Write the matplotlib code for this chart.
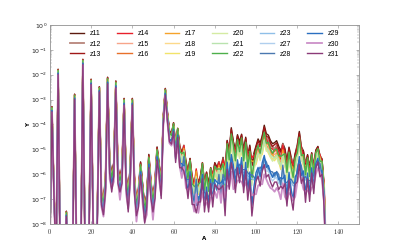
import matplotlib
matplotlib.use("Agg")
import matplotlib.pyplot as plt
import numpy as np
from matplotlib.ticker import LogLocator, FixedLocator, FuncFormatter, NullFormatter, LogFormatterMathtext

# ---- data (log10 of Y) ----
A = list(range(0, 135))

base_log = [
    -8.8, -3.4, -6.8, -9.5, -1.9, -9.5, -9.5, -9.5, -7.6, -9.5,   # 0-9
    -9.5, -9.5, -2.9, -9.5, -9.5, -9.5, -1.5, -8.6, -9.5, -8.3,   # 10-19
    -2.3, -8.0, -9.0, -7.8, -2.6, -7.0, -7.4, -6.4, -2.25, -5.8,  # 20-29
    -6.3, -5.9, -2.4, -6.0, -6.6, -6.0, -3.1, -6.4, -7.1, -6.0,   # 30-39
    -3.1, -6.4, -7.5, -6.9, -5.8, -6.8, -7.6, -7.2, -5.5, -6.6,   # 40-49
    -7.4, -6.6, -5.2, -5.9, -6.6, -3.9, -2.7, -3.7, -4.5, -4.6,   # 50-59
    -4.2, -5.1, -4.5, -5.3, -5.6, -5.3, -6.0, -6.3, -5.9, -6.6,   # 60-69
    -6.9, -6.5, -6.9, -6.6, -6.1, -6.8, -6.5, -6.9, -6.3, -6.5,   # 70-79
    -6.1, -6.3, -6.0, -6.4, -5.9, -6.5, -5.5, -5.8, -5.0, -5.6,   # 80-89
    -5.8, -5.3, -5.5, -5.3, -5.8, -5.4, -6.0, -5.7, -6.3, -6.0,   # 90-99
    -5.8, -5.5, -5.6, -5.4, -5.0, -5.3, -5.4, -5.6, -5.7, -5.7,   # 100-109
    -5.6, -5.8, -6.0, -5.6, -5.9, -6.3, -5.8, -6.1, -6.4, -6.0,   # 110-119
    -5.6, -5.1, -5.6, -5.8, -6.2, -5.9, -6.3, -5.8, -6.1, -5.5,   # 120-129
    -5.3, -5.6, -5.8, -6.8, -9.5,                                 # 130-134
]

# width of the fan of series around base_log (decades)
fan = [
    0.1, 0.12, 0.12, 0.1, 0.12, 0.1, 0.1, 0.1, 0.12, 0.1,
    0.1, 0.1, 0.12, 0.1, 0.1, 0.1, 0.12, 0.1, 0.1, 0.12,
    0.12, 0.12, 0.1, 0.2, 0.12, 0.3, 0.3, 0.35, 0.15, 0.35,
    0.35, 0.35, 0.15, 0.35, 0.35, 0.35, 0.15, 0.35, 0.35, 0.35,
    0.15, 0.35, 0.35, 0.35, 0.3, 0.35, 0.35, 0.35, 0.3, 0.35,
    0.35, 0.35, 0.3, 0.3, 0.3, 0.2, 0.15, 0.2, 0.25, 0.25,
    0.25, 0.3, 0.3, 0.45, 0.45, 0.5, 0.5, 0.5, 0.5, 0.55,
    0.55, 0.6, 0.55, 0.55, 0.5, 0.55, 0.55, 0.55, 0.5, 0.55,
    0.55, 0.55, 0.55, 0.6, 0.6, 0.75, 0.8, 0.8, 0.85, 0.85,
    0.85, 0.85, 0.85, 0.85, 0.85, 0.85, 0.85, 0.85, 0.9, 0.9,
    0.9, 0.9, 0.9, 0.9, 0.95, 0.95, 0.95, 0.95, 0.95, 0.95,
    0.95, 0.95, 0.9, 0.9, 0.9, 0.9, 0.85, 0.85, 0.85, 0.8,
    0.8, 0.8, 0.75, 0.7, 0.7, 0.65, 0.65, 0.6, 0.5, 0.45,
    0.4, 0.4, 0.4, 0.4, 0.4,
]

# point-to-point crossing of the series (decades)
cross = [
    0, 0, 0, 0, 0, 0, 0, 0, 0, 0,
    0, 0, 0, 0, 0, 0, 0, 0, 0, 0,
    0, 0, 0, 0, 0, 0, 0, 0, 0, 0.1,
    -0.15, 0.1, 0, -0.1, 0.15, -0.1, 0, 0.1, -0.15, 0.1,
    0, -0.1, 0.1, -0.15, 0, 0.1, -0.1, 0.15, 0, -0.1,
    0.15, -0.1, 0, 0.1, -0.15, 0, 0, 0, 0, 0,
    0.1, -0.2, 0.2, -0.1, 0.2, -0.2, 0.1, -0.3, 0.2, -0.2,
    0.1, -0.6, 0.2, -0.1, 0.3, -0.3, 0.2, -0.2, 0.3, -0.4,
    0.1, 0.2, -0.2, 0.3, -0.1, -0.6, 0.3, -0.2, 0.1, 0.3,
    -0.3, 0.2, -0.2, 0.3, -0.3, 0.2, -0.4, 0.1, -0.7, -0.2,
    0.2, 0.1, -0.2, 0.2, 0.1, -0.1, 0.1, 0.0, -0.1, 0.1,
    0.0, -0.1, 0.2, -0.3, 0.2, -0.3, 0.2, -0.2, -0.4, 0.2,
    -0.1, 0.1, -0.2, 0.2, -0.4, 0.2, -0.3, 0.3, -0.3, 0.1,
    0.1, -0.2, 0.1, -0.2, 0,
]

series_names = ["z11", "z12", "z13", "z14", "z15", "z16", "z17", "z18", "z19",
                "z20", "z21", "z22", "z23", "z27", "z28", "z29", "z30", "z31"]
series_offset = [1.0, 0.8, 0.9, 0.7, 0.5, 0.6, 0.45, 0.35, 0.3,
                 0.3, 0.4, 0.65, -0.4, -0.55, -0.3, -0.35, -1.0, -0.75]
series_cross = [0.2, -0.3, 0.4, -0.5, 0.3, 0.8, -0.6, 0.5, -0.4,
                0.6, -0.2, 0.7, -0.7, 0.5, -0.8, 0.9, -0.5, 1.0]
series_colors = ["#5c1a0e", "#b8857b", "#a01818", "#e8202a", "#f7a58a", "#e8702a",
                 "#f5a32a", "#fcd98a", "#f2e36a", "#d4eba3", "#b9e3ae", "#4daf4a",
                 "#8fbfe8", "#b0cfee", "#4a78b0", "#2a6fc0", "#cc90c8", "#8b3a78"]
series_lw = [2.0, 2.6, 2.0, 2.0, 2.0, 2.0, 2.0, 2.0, 2.0,
             2.0, 2.0, 2.0, 2.0, 2.0, 2.0, 2.0, 2.6, 2.0]

x_ticks = [0, 20, 40, 60, 80, 100, 120, 140]
y_ticks = [1e-8, 1e-7, 1e-6, 1e-5, 1e-4, 1e-3, 1e-2, 1e-1, 1e0]

plt.rcParams['mathtext.fontset'] = 'cm'

fig = plt.figure(figsize=(7.98, 4.98), dpi=50)
ax = fig.add_axes([0.125, 0.1, 0.775, 0.8])

x = np.array(A)
b = np.array(base_log)
f = np.array(fan)
c = np.array(cross)
for name, off, cr, col, lw in zip(series_names, series_offset, series_cross,
                                  series_colors, series_lw):
    y = 10.0 ** (b + off * f + cr * c)
    ax.plot(x, y, color=col, lw=lw, label=name)

ax.set_yscale('log')
ax.set_xlim(0, 150)
ax.set_ylim(1e-8, 1)

ax.xaxis.set_major_locator(FixedLocator(x_ticks))
ax.xaxis.set_major_formatter(FuncFormatter(lambda v, p: r'$%d$' % v))
ax.yaxis.set_major_locator(FixedLocator(y_ticks))
ax.yaxis.set_major_formatter(LogFormatterMathtext())
minor = [m * 10.0 ** e for e in range(-8, 0) for m in range(2, 10)]
ax.yaxis.set_minor_locator(FixedLocator(minor))
ax.yaxis.set_minor_formatter(NullFormatter())

ax.tick_params(which='both', direction='in', top=True, right=True, colors='#888888',
               labelcolor='#222222', labelsize=9)
ax.tick_params(which='major', length=5, width=0.8)
ax.tick_params(which='minor', length=2.5, width=0.6)
for s in ax.spines.values():
    s.set_color('#999999')
    s.set_linewidth(1.3)

ax.set_xlabel('A', fontsize=8, fontweight='bold', labelpad=0)
ax.set_ylabel('Y', fontsize=8, fontweight='bold', labelpad=1)

leg = ax.legend(loc='upper center', ncol=6, frameon=False,
                handlelength=2.1, handletextpad=0.8, columnspacing=2.3,
                labelspacing=0.45, borderaxespad=0.4,
                prop={'family': 'Liberation Sans', 'size': 10})

fig.savefig('out.png', dpi=50)
